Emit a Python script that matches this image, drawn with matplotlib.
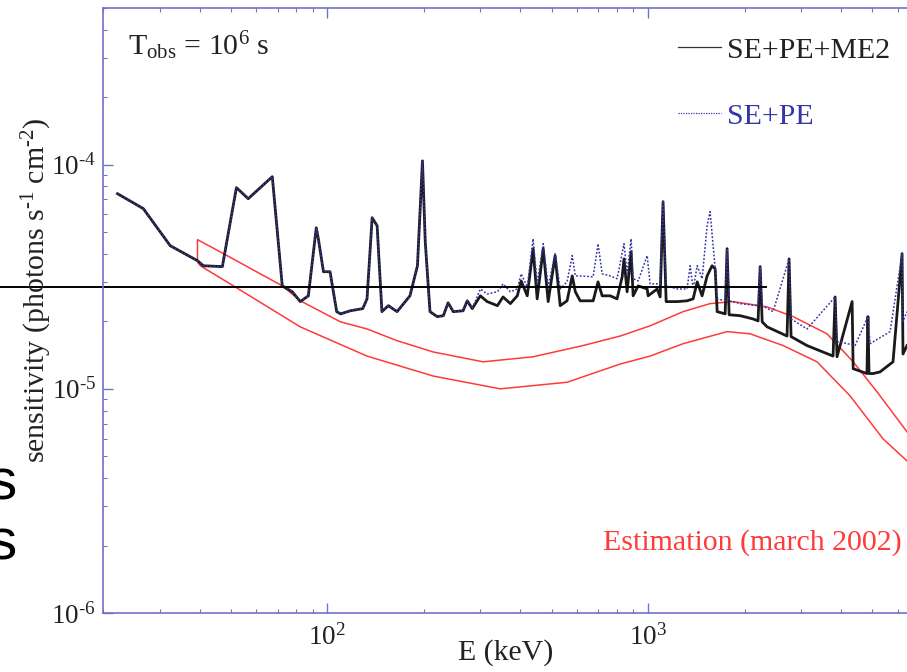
import numpy as np
import matplotlib
matplotlib.use('Agg')
import matplotlib.pyplot as plt
from matplotlib.lines import Line2D
from matplotlib.ticker import FuncFormatter

plt.rcParams['font.family'] = 'Liberation Serif'
plt.rcParams['mathtext.fontset'] = 'custom'
plt.rcParams['mathtext.rm'] = 'Liberation Serif'
plt.rcParams['mathtext.it'] = 'Liberation Serif:italic'
plt.rcParams['mathtext.bf'] = 'Liberation Serif:bold'

# SE+PE+ME2 below 300 keV (SE+PE is the same there)
low_E = [22.2, 26.7, 32.4, 39.4, 41.1, 47.1, 52.1, 56.7, 67.4, 72.4, 77.8, 82.4,
         87.3, 92.4, 93.8, 97.3, 102, 107, 110, 118, 129, 133, 138, 143, 148, 155,
         165, 181, 191, 198, 202, 209, 220, 230, 238, 247, 265, 273, 283]
low_S = [7.42e-5, 6.37e-5, 4.35e-5, 3.73e-5, 3.54e-5, 3.51e-5, 7.90e-5, 7.05e-5,
         8.84e-5, 2.88e-5, 2.71e-5, 2.45e-5, 2.60e-5, 5.23e-5, 4.67e-5, 3.33e-5,
         3.33e-5, 2.21e-5, 2.16e-5, 2.23e-5, 2.28e-5, 2.52e-5, 5.80e-5, 5.34e-5,
         2.21e-5, 2.35e-5, 2.21e-5, 2.60e-5, 3.54e-5, 1.04e-4, 4.53e-5, 2.21e-5,
         2.10e-5, 2.12e-5, 2.42e-5, 2.21e-5, 2.23e-5, 2.47e-5, 2.28e-5]

# SE+PE+ME2 above 300 keV
me2_E = [300, 315, 339, 353, 372, 391, 402, 420, 438, 451, 471, 488, 513, 532, 559,
         580, 593, 614, 674, 698, 719, 762, 800, 830, 841, 860, 885, 898, 931, 993,
         1000, 1067, 1090, 1113, 1138, 1232, 1322, 1381, 1422, 1473, 1527, 1582,
         1618, 1641, 1738, 1762, 1788, 1935, 2124, 2201, 2234, 2267, 2349, 2710,
         2749, 2789, 3127, 3770, 3826, 3879, 4322, 4355, 4808, 4842, 4880, 5025,
         5282, 5797, 6186, 6227, 6409]
me2_S = [2.60e-5, 2.45e-5, 2.35e-5, 2.57e-5, 2.40e-5, 2.60e-5, 3.03e-5, 2.60e-5,
         4.22e-5, 2.52e-5, 4.22e-5, 2.45e-5, 3.93e-5, 2.35e-5, 2.47e-5, 3.19e-5,
         2.71e-5, 2.47e-5, 2.47e-5, 3.00e-5, 2.60e-5, 2.60e-5, 2.52e-5, 3.16e-5,
         3.80e-5, 2.71e-5, 4.09e-5, 2.60e-5, 2.88e-5, 2.79e-5, 2.60e-5, 2.79e-5,
         2.57e-5, 6.84e-5, 2.45e-5, 2.45e-5, 2.47e-5, 2.52e-5, 3.00e-5, 2.60e-5,
         3.19e-5, 3.54e-5, 3.43e-5, 2.21e-5, 2.16e-5, 4.22e-5, 2.14e-5, 2.12e-5,
         2.05e-5, 2.01e-5, 3.51e-5, 1.99e-5, 1.89e-5, 1.72e-5, 3.80e-5, 1.71e-5,
         1.56e-5, 1.40e-5, 2.57e-5, 1.39e-5, 2.45e-5, 1.23e-5, 1.17e-5, 2.10e-5,
         1.17e-5, 1.17e-5, 1.19e-5, 1.32e-5, 4.01e-5, 1.43e-5, 1.56e-5]

# SE+PE above 300 keV
pe_E = [300, 315, 339, 353, 372, 391, 402, 420, 438, 451, 471, 488, 513, 532, 559,
        580, 593, 614, 674, 698, 719, 762, 800, 841, 860, 885, 898, 931, 993, 1014,
        1090, 1113, 1138, 1232, 1322, 1352, 1381, 1422, 1473, 1527, 1560, 1582,
        1618, 1641, 1738, 1762, 1788, 1935, 2201, 2234, 2267, 2451, 2749, 2789,
        3127, 3826, 3879, 3963, 4414, 4842, 4918, 5675, 6186, 6227, 6409]
pe_S = [2.79e-5, 2.65e-5, 2.71e-5, 2.94e-5, 2.71e-5, 2.79e-5, 3.26e-5, 2.85e-5,
        4.67e-5, 2.94e-5, 4.44e-5, 2.85e-5, 4.01e-5, 2.79e-5, 3.00e-5, 3.93e-5,
        3.19e-5, 3.19e-5, 3.16e-5, 4.44e-5, 3.26e-5, 3.19e-5, 3.10e-5, 4.44e-5,
        3.26e-5, 4.67e-5, 3.10e-5, 3.03e-5, 3.93e-5, 2.94e-5, 2.94e-5, 6.91e-5,
        2.88e-5, 2.79e-5, 2.79e-5, 3.54e-5, 2.79e-5, 3.54e-5, 3.10e-5, 5.34e-5,
        6.17e-5, 4.92e-5, 3.43e-5, 2.52e-5, 2.47e-5, 4.22e-5, 2.47e-5, 2.40e-5,
        2.35e-5, 3.51e-5, 2.35e-5, 2.21e-5, 3.80e-5, 2.05e-5, 1.85e-5, 2.57e-5,
        1.62e-5, 1.62e-5, 1.56e-5, 2.10e-5, 1.59e-5, 1.80e-5, 4.01e-5, 2.00e-5,
        2.21e-5]

# estimation band (march 2002)
est_hi_E = [39.4, 48.1, 72.4, 82.4, 110, 133, 165, 214, 306, 438, 627, 818, 1014,
            1285, 1560, 1841, 2349, 2830, 3610, 4355, 5168, 6409]
est_hi_S = [4.63e-5, 3.97e-5, 2.88e-5, 2.47e-5, 1.99e-5, 1.85e-5, 1.64e-5, 1.46e-5,
            1.32e-5, 1.39e-5, 1.56e-5, 1.72e-5, 1.91e-5, 2.21e-5, 2.40e-5, 2.45e-5,
            2.32e-5, 2.10e-5, 1.76e-5, 1.32e-5, 9.70e-6, 6.43e-6]
est_lo_E = [39.4, 40.2, 51.0, 82.4, 133, 214, 346, 559, 818, 1014, 1285, 1762, 2078,
            2634, 3360, 4258, 5398, 6409]
est_lo_S = [3.69e-5, 3.54e-5, 2.88e-5, 1.89e-5, 1.40e-5, 1.14e-5, 1.00e-5, 1.07e-5,
            1.29e-5, 1.40e-5, 1.59e-5, 1.80e-5, 1.76e-5, 1.56e-5, 1.32e-5, 9.31e-6,
            5.98e-6, 4.77e-6]

# stray horizontal line across the figure
guide_E = [9.6, 2335]
guide_S = 2.85e-5

x_ticks = [100, 1000]

frame_col = '#7272c6'
blue = '#3535a6'
red = '#ff3a3a'

fig = plt.figure(figsize=(9.07, 6.72), dpi=100)
ax = fig.add_axes([103/907, 59/672, 866/907, 605/672])

black_E = low_E + me2_E
black_S = low_S + me2_S
blue_E = low_E + pe_E
blue_S = low_S + pe_S
red_E = est_hi_E[::-1] + est_lo_E
red_S = est_hi_S[::-1] + est_lo_S

ax.plot(red_E, red_S, color=red, lw=1.1)
ax.plot(black_E, black_S, color='#1a1a1a', lw=2.0)
ax.plot(blue_E, blue_S, color=blue, lw=1.1, ls=(0, (1.2, 1.2)))
ax.plot(guide_E, [guide_S, guide_S], color='black', lw=1.4, clip_on=False)

ax.set_xscale('log')
ax.set_yscale('log')
ax.set_xlim(20, 1e4)
ax.set_ylim(1e-6, 5e-4)
ax.set_xticks(x_ticks)

def pow_label(v, pos):
    e = int(round(np.log10(v)))
    if e < 0:
        return r'$10^{\text{-}%d}$' % (-e)
    return r'$10^{%d}$' % e

ax.xaxis.set_major_formatter(FuncFormatter(pow_label))
ax.yaxis.set_major_formatter(FuncFormatter(pow_label))

for s in ax.spines.values():
    s.set_color(frame_col)
    s.set_linewidth(1.2)
ax.tick_params(which='both', direction='in', top=True, right=True,
               colors=frame_col, labelcolor='#222222', labelsize=19.5)
ax.tick_params(which='major', length=7, width=1, pad=5)
ax.tick_params(which='minor', length=3, width=0.8)
ax.tick_params(axis='x', which='major', pad=8)

ax.set_xlabel('E (keV)', fontsize=21.5, color='#222222')
ax.xaxis.set_label_coords(0.465, -0.043)
fig.text(37/907, 1 - 290/672, r'sensitivity (photons s$^{\text{-}1}$ cm$^{\text{-}2}$)',
         rotation=90, ha='center', va='center', fontsize=21.5, color='#222222')

fig.text(128/907, 1 - 55/672, r'T$_{\rm obs}$ = 10$^{6}$ s', fontsize=21.5,
         color='#222222', va='baseline')
fig.text(603/907, 1 - 550/672, 'Estimation (march 2002)', fontsize=21.5,
         color=red, va='baseline')

handles = [Line2D([], [], color='#333333', lw=0.9),
           Line2D([], [], color=blue, lw=0.9, ls=(0, (1, 1)))]
leg = ax.legend(handles, ['SE+PE+ME2', 'SE+PE'], loc='upper left',
                bbox_to_anchor=(678/907, 1 - 37/672), bbox_transform=fig.transFigure,
                frameon=False, fontsize=21.5, handlelength=1.45, handletextpad=0.2,
                labelspacing=1.3, borderpad=0, borderaxespad=0,
                labelcolor=['#222222', blue])

for y in (500, 560):
    fig.text(17/907, 1 - y/672, 's', fontsize=42, family='Liberation Sans',
             ha='right', va='baseline', color='black')

fig.savefig('out.png', dpi=100)
